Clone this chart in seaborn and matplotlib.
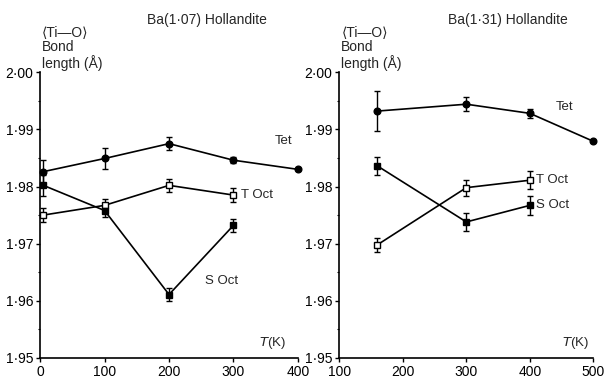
import numpy as np
import pandas as pd
import seaborn as sns
import matplotlib
matplotlib.use("Agg")
import matplotlib.pyplot as plt
from matplotlib.ticker import FuncFormatter, MultipleLocator

# ---- data: Ba(1.07) Hollandite ----
T_left = [5, 100, 200, 300, 400]
tet_left = [1.9826, 1.9849, 1.9875, 1.9846, 1.9830]
tet_left_err = [0.0020, 0.0018, 0.0012, 0.0005, 0.0]
toct_left_T = [5, 100, 200, 300]
toct_left = [1.9750, 1.9767, 1.9802, 1.9785]
toct_left_err = [0.0012, 0.0012, 0.0012, 0.0012]
soct_left_T = [5, 100, 200, 300]
soct_left = [1.9802, 1.9758, 1.9611, 1.9732]
soct_left_err = [0.0018, 0.0012, 0.0012, 0.0012]

# ---- data: Ba(1.31) Hollandite ----
T_right = [160, 300, 400, 500]
tet_right = [1.9932, 1.9944, 1.9928, 1.9879]
tet_right_err = [0.0035, 0.0012, 0.0008, 0.0]
oct_right_T = [160, 300, 400]
toct_right = [1.9698, 1.9798, 1.9811]
toct_right_err = [0.0012, 0.0014, 0.0016]
soct_right = [1.9836, 1.9738, 1.9767]
soct_right_err = [0.0015, 0.0015, 0.0016]

titles = ["Ba(1·07) Hollandite", "Ba(1·31) Hollandite"]
ylabel_lines = "⟨Ti—O⟩\nBond\nlength (Å)"

sns.set_theme(style="ticks")
plt.rcParams['font.family'] = ['Liberation Sans', 'DejaVu Sans']
plt.rcParams['font.size'] = 9.5

fig = plt.figure(figsize=(6.08, 3.8), dpi=100)
axL = fig.add_axes([0.066, 0.058, 0.424, 0.752])
axR = fig.add_axes([0.558, 0.058, 0.418, 0.752])


def series(ax, x, y, err, marker, mfc):
    df = pd.DataFrame({"T": x, "d": y})
    sns.lineplot(data=df, x="T", y="d", ax=ax, color="black", lw=1.2,
                 marker=marker, markersize=4.8, markerfacecolor=mfc,
                 markeredgecolor="black", markeredgewidth=1.0, clip_on=False,
                 zorder=3)
    e = np.array(err)
    m = e > 0
    ax.errorbar(np.array(x)[m], np.array(y)[m], yerr=e[m], fmt="none",
                ecolor="black", elinewidth=1.0, capsize=2, capthick=1.0,
                clip_on=False, zorder=2)


series(axL, T_left, tet_left, tet_left_err, "o", "black")
series(axL, toct_left_T, toct_left, toct_left_err, "s", "white")
series(axL, soct_left_T, soct_left, soct_left_err, "s", "black")

series(axR, T_right, tet_right, tet_right_err, "o", "black")
series(axR, oct_right_T, toct_right, toct_right_err, "s", "white")
series(axR, oct_right_T, soct_right, soct_right_err, "s", "black")

fmt = FuncFormatter(lambda v, p: f"{v:.2f}".replace(".", "·"))
for ax, xl, title, cx in [(axL, (0, 400), titles[0], 207), (axR, (100, 500), titles[1], 508)]:
    ax.set_xlim(*xl)
    ax.set_ylim(1.95, 2.00)
    ax.xaxis.set_major_locator(MultipleLocator(100))
    ax.yaxis.set_major_locator(MultipleLocator(0.01))
    ax.yaxis.set_minor_locator(MultipleLocator(0.005))
    ax.yaxis.set_major_formatter(fmt)
    ax.set_xlabel("")
    ax.set_ylabel("")
    sns.despine(ax=ax)
    for s in ("left", "bottom"):
        ax.spines[s].set_linewidth(1.2)
        ax.spines[s].set_color("black")
    ax.tick_params(axis="both", which="major", length=3, width=1, color="black",
                   labelsize=10, labelcolor="black", pad=2)
    ax.tick_params(axis="y", which="minor", length=1.5, width=0.8, color="black")
    fig.text(cx / 608, 1 - 20 / 380, title, ha="center", va="center", fontsize=10)
    ax.text(0.008, 1.005, ylabel_lines, transform=ax.transAxes, ha="left", va="bottom",
            fontsize=10, linespacing=1.05)

# labels
axL.text(377, 1.9879, "Tet", ha="center", va="center")
axL.text(312, 1.9786, "T Oct", ha="left", va="center")
axL.text(281, 1.9635, "S Oct", ha="center", va="center")
axL.text(360, 1.9527, r"$T$(K)", ha="center", va="center")

axR.text(455, 1.9939, "Tet", ha="center", va="center")
axR.text(410, 1.9812, "T Oct", ha="left", va="center")
axR.text(410, 1.9767, "S Oct", ha="left", va="center")
axR.text(472, 1.9527, r"$T$(K)", ha="center", va="center")

fig.savefig("out.png", dpi=100)
